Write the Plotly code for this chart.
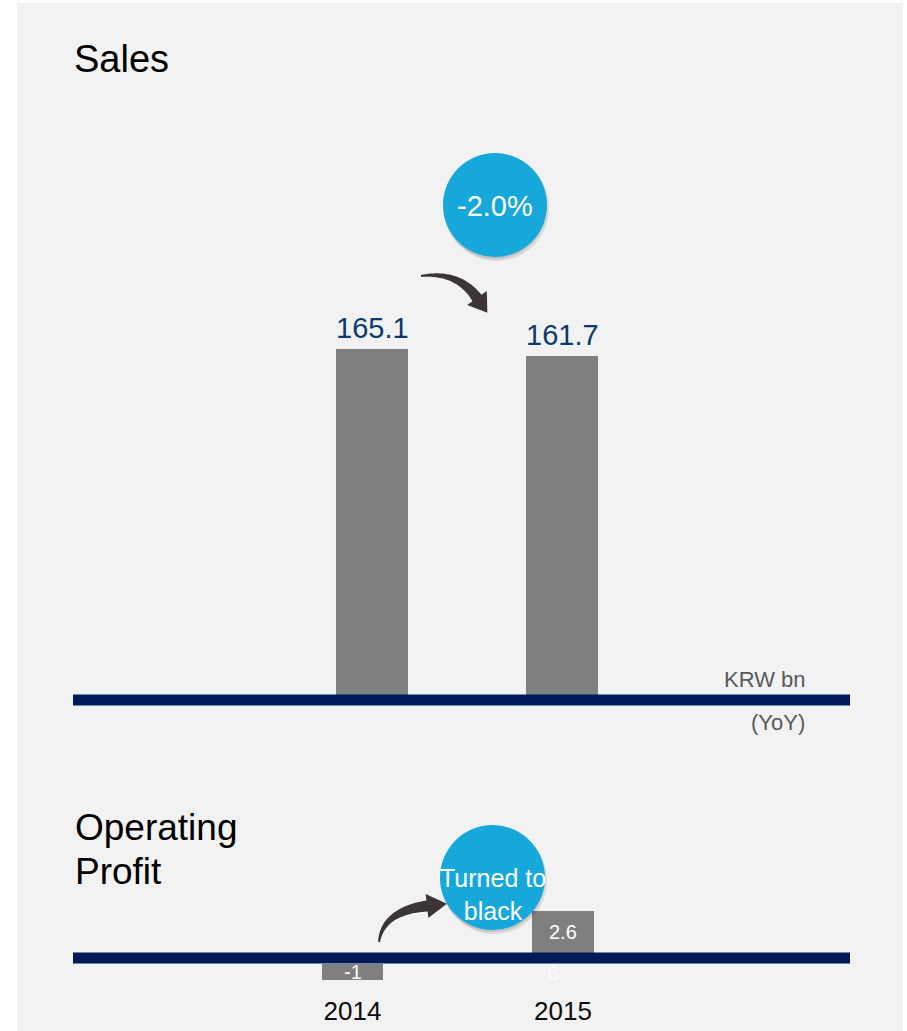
import numpy as np
import plotly.graph_objects as go

# ---- data ----
years = ["2014", "2015"]
sales = [165.1, 161.7]
op_profit = [-1, 2.6]
sales_change_label = "-2.0%"
profit_change_label = "Turned to<br>black"
hidden_label = "-6"
unit_label = "KRW bn"
yoy_label = "(YoY)"

W, H = 907, 1031
FONT = "Liberation Sans, Arial, sans-serif"
NAVY = "#001a57"
BLUE = "#16a8da"
BAR = "#7f7f7f"
ARROW = "#3b3536"
LINE_W = 11


def px(x):
    return x / W


def py(y):
    return 1 - y / H


def arrow_path(p0, c, p1, w0, w1, head_w, head_len):
    p0, c, p1 = map(np.array, (p0, c, p1))
    t = np.linspace(0, 1, 30)[:, None]
    B = (1 - t) ** 2 * p0 + 2 * (1 - t) * t * c + t ** 2 * p1
    d = 2 * (1 - t) * (c - p0) + 2 * t * (p1 - c)
    d = d / np.linalg.norm(d, axis=1, keepdims=True)
    n = np.stack([-d[:, 1], d[:, 0]], axis=1)
    w = (w0 + (w1 - w0) * t)
    left = B + n * w / 2
    right = B - n * w / 2
    de = d[-1]
    ne = n[-1]
    tip = p1 + de * head_len
    hl = p1 + ne * head_w / 2
    hr = p1 - ne * head_w / 2
    pts = list(left) + [hl, tip, hr] + list(right[::-1])
    s = "M " + " L ".join(f"{px(x):.5f},{py(y):.5f}" for x, y in pts) + " Z"
    return s


s_sales = 2.126  # px per unit
s_prof = 16.0    # px per unit

# profit bars start at the edge of the thick baseline
prof_base = [(-1 if v < 0 else 1) * (LINE_W / 2) / s_prof for v in op_profit]

fig = go.Figure()

fig.add_trace(go.Bar(x=years, y=sales, xaxis="x", yaxis="y", width=0.38,
                     marker=dict(color=BAR, line=dict(width=0)), hoverinfo="skip"))
fig.add_trace(go.Bar(x=years, y=op_profit, base=prof_base, xaxis="x2", yaxis="y2", width=0.29,
                     marker=dict(color=BAR, line=dict(width=0)), hoverinfo="skip"))

shapes = []
# background panel
shapes.append(dict(type="rect", xref="paper", yref="paper", x0=px(17), x1=px(903),
                   y0=py(1031), y1=py(3), fillcolor="#f2f2f2", line=dict(width=0), layer="below"))
# baselines
shapes.append(dict(type="line", xref="paper", yref="y", x0=px(73), x1=px(850), y0=0, y1=0,
                   line=dict(color=NAVY, width=LINE_W)))
shapes.append(dict(type="line", xref="paper", yref="y2", x0=px(73), x1=px(850), y0=0, y1=0,
                   line=dict(color=NAVY, width=LINE_W)))


def circle(cx, cy, r):
    out = []
    out.append(dict(type="circle", xref="paper", yref="paper", x0=px(cx - r + 1), x1=px(cx + r + 2),
                    y0=py(cy + r + 4), y1=py(cy - r + 2), fillcolor="rgba(0,0,0,0.10)",
                    line=dict(width=0)))
    out.append(dict(type="circle", xref="paper", yref="paper", x0=px(cx - r), x1=px(cx + r),
                    y0=py(cy + r + 2), y1=py(cy - r + 1), fillcolor="rgba(0,0,0,0.10)",
                    line=dict(width=0)))
    out.append(dict(type="circle", xref="paper", yref="paper", x0=px(cx - r), x1=px(cx + r),
                    y0=py(cy + r), y1=py(cy - r), fillcolor=BLUE, line=dict(width=0)))
    return out


shapes += circle(495, 205, 52)
shapes += circle(492.5, 877.5, 52.5)

# arrows
shapes.append(dict(type="path", xref="paper", yref="paper",
                   path=arrow_path((421, 276), (458, 271), (477, 298), 2, 11, 24, 18),
                   fillcolor=ARROW, line=dict(width=0)))
shapes.append(dict(type="path", xref="paper", yref="paper",
                   path=arrow_path((379, 942), (383, 911), (427, 906), 2, 11, 24, 20),
                   fillcolor=ARROW, line=dict(width=0)))

ann = []
ann.append(dict(text="Sales", xref="paper", yref="paper", x=px(72), y=py(59), xanchor="left",
                yanchor="middle", showarrow=False, font=dict(family=FONT, size=38, color="#000000")))
ann.append(dict(text="Operating", xref="paper", yref="paper", x=px(73), y=py(827), xanchor="left",
                yanchor="middle", showarrow=False, font=dict(family=FONT, size=37, color="#000000")))
ann.append(dict(text="Profit", xref="paper", yref="paper", x=px(73), y=py(871), xanchor="left",
                yanchor="middle", showarrow=False, font=dict(family=FONT, size=37, color="#000000")))

for i, v in enumerate(sales):
    ann.append(dict(text=f"{v:.1f}", xref="x", yref="y", x=i, y=v, xanchor="center",
                    yanchor="bottom", yshift=3,
                    showarrow=False, font=dict(family=FONT, size=29, color="#0b3a6f")))

for i, (v, b) in enumerate(zip(op_profit, prof_base)):
    ann.append(dict(text=f"{v:g}", xref="x2", yref="y2", x=i, y=b + v / 2, xanchor="center",
                    yanchor="middle",
                    showarrow=False, font=dict(family=FONT, size=20, color="#ffffff")))

ann.append(dict(text=hidden_label, xref="paper", yref="paper", x=px(550), y=py(973), xanchor="center",
                yanchor="middle",
                showarrow=False, font=dict(family=FONT, size=20, color="#fbfbfb")))

ann.append(dict(text=sales_change_label, xref="paper", yref="paper", x=px(495), y=py(206),
                xanchor="center", yanchor="middle", showarrow=False,
                font=dict(family=FONT, size=29, color="#ffffff")))
ann.append(dict(text=profit_change_label, xref="paper", yref="paper", x=px(493), y=py(894),
                xanchor="center", yanchor="middle", showarrow=False,
                font=dict(family=FONT, size=25, color="#ffffff")))

ann.append(dict(text=unit_label, xref="paper", yref="paper", x=px(765), y=py(679), xanchor="center",
                yanchor="middle",
                showarrow=False, font=dict(family=FONT, size=22, color="#595959")))
ann.append(dict(text=yoy_label, xref="paper", yref="paper", x=px(778), y=py(722), xanchor="center",
                yanchor="middle",
                showarrow=False, font=dict(family=FONT, size=22, color="#595959")))

fig.update_layout(
    width=W, height=H,
    margin=dict(l=0, r=0, t=0, b=0),
    paper_bgcolor="#ffffff",
    plot_bgcolor="rgba(0,0,0,0)",
    showlegend=False,
    shapes=shapes,
    annotations=ann,
    bargap=0,
    xaxis=dict(domain=[px(73), px(850)], type="category", range=[-299 / 190, 478 / 190],
               showticklabels=False, showgrid=False, zeroline=False, showline=False, fixedrange=True),
    yaxis=dict(domain=[py(720), py(300)], range=[-20 / s_sales, 400 / s_sales], showticklabels=False,
               showgrid=False, zeroline=False, showline=False, fixedrange=True),
    xaxis2=dict(domain=[px(73), px(850)], type="category", range=[-279.5 / 210.5, 497.5 / 210.5],
                anchor="y2", showticklabels=True, ticks="", showgrid=False, zeroline=False,
                showline=False, fixedrange=True,
                tickfont=dict(family=FONT, size=26, color="#0d0d0d")),
    yaxis2=dict(domain=[py(993), py(900)], range=[-(993 - 958) / s_prof, (958 - 900) / s_prof],
                anchor="x2", showticklabels=False, showgrid=False, zeroline=False, showline=False,
                fixedrange=True),
)

fig.write_html("out.html")
